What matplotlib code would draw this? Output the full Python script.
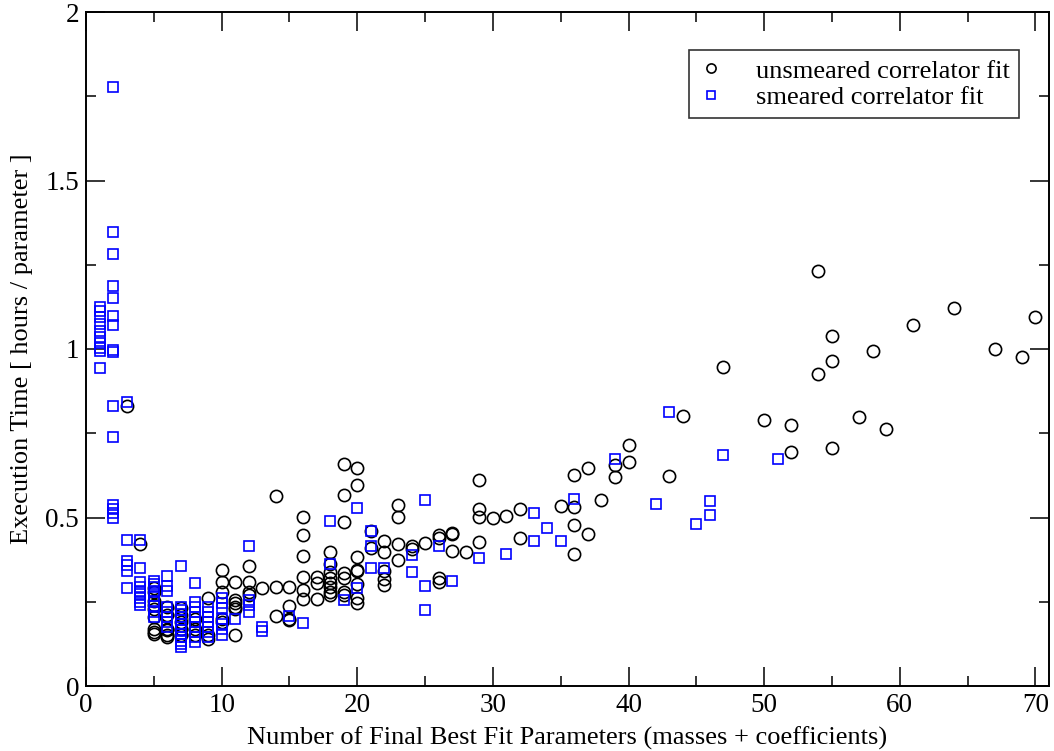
import matplotlib
matplotlib.use("Agg")
import matplotlib.pyplot as plt
from matplotlib.ticker import MultipleLocator

# Tiempo de ejecucion por parametro frente al numero de parametros del ajuste
# (valores leidos a ojo de la figura original)

unsmeared_x = [3, 4,
               5, 5, 5, 5, 5, 5, 5, 5, 5,
               6, 6, 6, 6, 6, 6,
               7, 7, 7, 7, 7,
               8, 8, 8,
               9, 9, 9,
               10, 10, 10, 10, 10,
               11, 11, 11, 11, 11, 11,
               12, 12, 12, 12,
               13,
               14, 14, 14,
               15, 15, 15, 15,
               16, 16, 16, 16, 16, 16,
               17, 17, 17,
               18, 18, 18, 18, 18, 18, 18, 18,
               19, 19, 19, 19, 19, 19, 19,
               20, 20, 20, 20, 20, 20, 20, 20,
               21, 21,
               22, 22, 22, 22, 22,
               23, 23, 23, 23,
               24, 24,
               25,
               26, 26, 26, 26,
               27, 27, 27,
               28,
               29, 29, 29, 29,
               30, 31, 32, 32, 35,
               36, 36, 36, 36,
               37, 37, 38, 39, 39, 40, 40,
               43, 44, 47, 50, 52, 52, 54, 54, 55, 55, 55,
               57, 58, 59, 61, 64, 67, 69, 70]
unsmeared_y = [0.83, 0.42,
               0.29, 0.278, 0.253, 0.24, 0.229, 0.204, 0.17, 0.16, 0.155,
               0.235, 0.21, 0.17, 0.165, 0.15, 0.145,
               0.23, 0.21, 0.19, 0.17, 0.15,
               0.2, 0.17, 0.15,
               0.26, 0.15, 0.14,
               0.345, 0.308, 0.28, 0.2, 0.19,
               0.308, 0.255, 0.245, 0.235, 0.228, 0.15,
               0.355, 0.31, 0.28, 0.27,
               0.291,
               0.565, 0.295, 0.208,
               0.295, 0.237, 0.2, 0.195,
               0.501, 0.447, 0.386, 0.324, 0.285, 0.258,
               0.322, 0.305, 0.258,
               0.399, 0.362, 0.337, 0.32, 0.305, 0.295, 0.28, 0.27,
               0.659, 0.568, 0.488, 0.335, 0.32, 0.28, 0.27,
               0.647, 0.596, 0.384, 0.345, 0.34, 0.303, 0.26, 0.247,
               0.46, 0.41,
               0.429, 0.398, 0.342, 0.317, 0.30,
               0.537, 0.502, 0.421, 0.373,
               0.416, 0.408,
               0.423,
               0.447, 0.438, 0.319, 0.309,
               0.455, 0.45, 0.401,
               0.398,
               0.612, 0.524, 0.502, 0.426,
               0.499, 0.504, 0.526, 0.439, 0.534,
               0.625, 0.531, 0.478, 0.393,
               0.647, 0.45, 0.551, 0.657, 0.619, 0.716, 0.665,
               0.622, 0.802, 0.948, 0.79, 0.773, 0.694, 1.232, 0.925, 1.04, 0.965, 0.705,
               0.798, 0.995, 0.763, 1.07, 1.122, 1.001, 0.976, 1.096]

smeared_x = [1, 1, 1, 1, 1, 1, 1, 1, 1, 1,
             2, 2, 2, 2, 2, 2, 2, 2, 2, 2, 2, 2, 2, 2, 2,
             3, 3, 3, 3, 3, 3,
             4, 4, 4, 4, 4, 4, 4, 4, 4,
             5, 5, 5, 5, 5, 5, 5, 5, 5,
             6, 6, 6, 6, 6, 6, 6, 6,
             7, 7, 7, 7, 7, 7, 7, 7, 7, 7, 7, 7, 7, 7,
             8, 8, 8, 8, 8, 8, 8, 8, 8, 8,
             9, 9, 9, 9, 9, 9, 9,
             10, 10, 10, 10, 10, 10, 10,
             11,
             12, 12, 12, 12,
             13, 13, 15, 16,
             18, 18, 19, 20, 20,
             21, 21, 21, 22, 24, 24,
             25, 25, 25, 26, 27, 29, 31,
             33, 33, 34, 35, 36, 39, 42, 43,
             45, 46, 46, 47, 51]
smeared_y = [1.124, 1.112, 1.094, 1.075, 1.053, 1.035, 1.018, 1.004, 0.994, 0.945,
             1.777, 1.348, 1.283, 1.187, 1.150, 1.099, 1.071, 0.998, 0.990, 0.831,
             0.740, 0.536, 0.524, 0.512, 0.50,
             0.843, 0.432, 0.370, 0.360, 0.340, 0.291,
             0.432, 0.349, 0.309, 0.293, 0.283, 0.273, 0.260, 0.248, 0.239,
             0.312, 0.303, 0.293, 0.278, 0.266, 0.253, 0.238, 0.219, 0.204,
             0.327, 0.298, 0.283, 0.234, 0.219, 0.204, 0.19, 0.175,
             0.357, 0.235, 0.225, 0.215, 0.205, 0.195, 0.185, 0.175, 0.165, 0.155,
             0.145, 0.135, 0.125, 0.115,
             0.305, 0.25, 0.235, 0.22, 0.205, 0.19, 0.175, 0.16, 0.145, 0.13,
             0.235, 0.22, 0.205, 0.19, 0.175, 0.16, 0.145,
             0.26, 0.245, 0.23, 0.2, 0.185, 0.17, 0.15,
             0.2,
             0.416, 0.255, 0.24, 0.22,
             0.175, 0.163, 0.209, 0.187,
             0.489, 0.362, 0.255, 0.527, 0.291,
             0.46, 0.416, 0.35, 0.349, 0.388, 0.337,
             0.551, 0.298, 0.226, 0.416, 0.312, 0.381, 0.393,
             0.514, 0.429, 0.47, 0.43, 0.555, 0.674, 0.539, 0.814,
             0.482, 0.548, 0.507, 0.686, 0.674]

plt.rcParams['font.family'] = ['Liberation Serif', 'DejaVu Serif']

fig = plt.figure(figsize=(10.54, 7.51), dpi=100)
ax = fig.add_axes([86 / 1054, 1 - 686 / 751, (1049 - 86) / 1054, (686 - 12) / 751])

# primero los circulos, los cuadrados azules quedan encima
ax.plot(unsmeared_x, unsmeared_y, linestyle='none', marker='o', markersize=8.8,
        markerfacecolor='none', markeredgecolor='black', markeredgewidth=1.2,
        label='unsmeared correlator fit')
ax.plot(smeared_x, smeared_y, linestyle='none', marker='s', markersize=7,
        markerfacecolor='none', markeredgecolor='#0000ff', markeredgewidth=1.2,
        label='smeared correlator fit')

ax.set_xlim(0, 71)
ax.set_ylim(0, 2)
ax.xaxis.set_major_locator(MultipleLocator(10))
ax.xaxis.set_minor_locator(MultipleLocator(5))
ax.yaxis.set_major_locator(MultipleLocator(0.5))
ax.yaxis.set_minor_locator(MultipleLocator(0.25))
ax.set_yticks([0, 0.5, 1, 1.5, 2])
ax.set_yticklabels(['0', '0.5', '1', '1.5', '2'])

ax.tick_params(which='both', direction='in', top=True, right=True, width=1.1,
               labelsize=19.5)
ax.tick_params(which='major', length=14)
ax.tick_params(which='minor', length=7)
ax.tick_params(axis='x', pad=5)
ax.tick_params(axis='y', pad=5)
for s in ax.spines.values():
    s.set_linewidth(1.4)

ax.set_xlabel('Number of Final Best Fit Parameters (masses + coefficients)',
              fontsize=19, labelpad=6)
ax.set_ylabel('Execution Time [ hours / parameter ]', fontsize=19, labelpad=9)

leg = ax.legend(loc='upper right', bbox_to_anchor=(1019 / 1054, 1 - 50 / 751),
                bbox_transform=fig.transFigure, fontsize=19, frameon=True,
                fancybox=False, edgecolor='black', borderpad=0.35,
                handlelength=1.0, handletextpad=1.2, labelspacing=0.1,
                borderaxespad=0, markerscale=0.75)
leg.get_frame().set_linewidth(1.2)

fig.savefig('out.png', dpi=100)
